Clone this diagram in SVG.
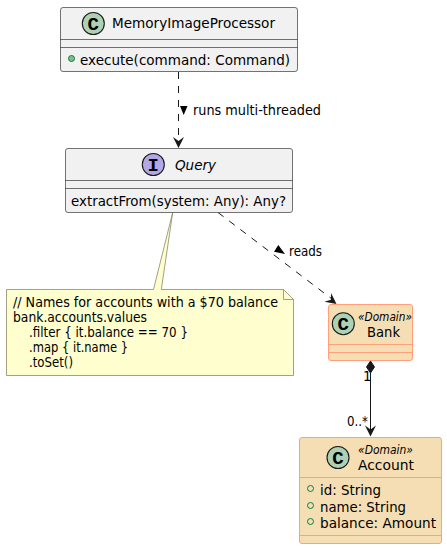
<svg xmlns="http://www.w3.org/2000/svg" width="447" height="549" viewBox="0 0 447 549">
<style>
text{font-family:"DejaVu Sans","Liberation Sans",sans-serif;font-size:14.300px;fill:#000}
.box{fill:#f1f1f1;stroke:#181818;stroke-width:.6}
.dom{fill:#f5deb3;stroke:#ffa07a;stroke-width:1}
.div{stroke:#181818;stroke-width:.6;fill:none}
.ddiv{stroke:#ffa07a;stroke-width:1;fill:none}
.c{fill:#add1b2;stroke:#181818;stroke-width:1.100}
.i{fill:#b4a7e5;stroke:#181818;stroke-width:1.100}
.g{font-weight:bold;font-size:19px;text-anchor:middle;font-family:"Liberation Mono","DejaVu Sans Mono",monospace}
.s{font-size:11.500px;font-style:italic}
.vis{fill:#84be84;stroke:#038048;stroke-width:1}
.visd{fill:none;stroke:#038048;stroke-width:1}
.ln{stroke:#181818;stroke-width:1;fill:none}
.dash{stroke-dasharray:7,7}
.nt{font-size:13.300px}
.lb{font-size:13.300px}
</style>
<defs>
<path id="ah" d="M-5.500,-11 L0,0 L5.500,-11 L0,-7 Z" fill="#181818"/>
</defs>
<g id="connectors">
<path class="ln dash" d="M178.500,72 L178.500,142"/>
<use href="#ah" transform="translate(178.500,148)"/>
<path d="M180,106 L187.500,106 L183.700,115 Z" fill="#000"/>
<text class="lb" x="193" y="115" textLength="128" lengthAdjust="spacingAndGlyphs">runs multi-threaded</text>
<path class="ln dash" d="M218,212.500 L332,299"/>
<use href="#ah" transform="translate(336.500,304) rotate(-53)"/>
<path d="M278.300,245 L274,251.700 L285,254 Z" fill="#000"/>
<text class="lb" x="289" y="256" textLength="33" lengthAdjust="spacingAndGlyphs">reads</text>
<path class="ln" d="M370.500,373 L370.500,430"/>
<path d="M370.500,361 L374.500,367 L370.500,373 L366.500,367 Z" fill="#181818" stroke="#181818"/>
<use href="#ah" transform="translate(370.500,436.500)"/>
<text class="lb" x="363" y="381">1</text>
<text class="lb" x="347" y="426" textLength="21" lengthAdjust="spacingAndGlyphs">0..*</text>
</g>
<g id="note">
<path d="M6.500,289.500 L153.500,289.500 L172.700,212.500 L161.300,289.500 L283.500,289.500 L293.500,299.500 L293.500,375.500 L6.500,375.500 Z" fill="#fefece" stroke="#8a8a6a" stroke-width=".8"/>
<path d="M283.500,289.500 L283.500,299.500 L293.500,299.500" fill="none" stroke="#8a8a6a" stroke-width=".8"/>
<text class="nt" x="13" y="307" textLength="265" lengthAdjust="spacingAndGlyphs">// Names for accounts with a $70 balance</text>
<text class="nt" x="13" y="322" textLength="134" lengthAdjust="spacingAndGlyphs">bank.accounts.values</text>
<text class="nt" x="29" y="337" textLength="159" lengthAdjust="spacingAndGlyphs">.filter { it.balance == 70 }</text>
<text class="nt" x="29" y="352" textLength="99" lengthAdjust="spacingAndGlyphs">.map { it.name }</text>
<text class="nt" x="29" y="367" textLength="44" lengthAdjust="spacingAndGlyphs">.toSet()</text>
</g>
<g id="MemoryImageProcessor">
<rect class="box" x="60.500" y="7.500" width="237" height="64" rx="2.500"/>
<path class="div" d="M60.500,39.500 H297.500 M60.500,47.500 H297.500"/>
<circle class="c" cx="93.300" cy="23.500" r="11"/>
<text class="g" x="93.300" y="29.500">C</text>
<text x="112" y="28" textLength="163" lengthAdjust="spacingAndGlyphs">MemoryImageProcessor</text>
<circle class="vis" cx="71.500" cy="58.500" r="3"/>
<text x="80" y="65" textLength="210" lengthAdjust="spacingAndGlyphs">execute(command: Command)</text>
</g>
<g id="Query">
<rect class="box" x="65.500" y="148.500" width="227" height="64" rx="2.500"/>
<path class="div" d="M65.500,180.500 H292.500 M65.500,188.500 H292.500"/>
<circle class="i" cx="153.300" cy="164.500" r="11"/>
<text class="g" x="153.300" y="170.500">I</text>
<text x="175" y="170" font-style="italic" textLength="41" lengthAdjust="spacingAndGlyphs">Query</text>
<text x="71" y="206" textLength="215" lengthAdjust="spacingAndGlyphs">extractFrom(system: Any): Any?</text>
</g>
<g id="Bank">
<rect class="dom" x="328.500" y="304.500" width="84" height="56" rx="2.500"/>
<path class="ddiv" d="M328.500,344.500 H412.500 M328.500,352.500 H412.500"/>
<circle class="c" cx="343.300" cy="323.700" r="11"/>
<text class="g" x="343.300" y="329.700">C</text>
<text class="s" x="358" y="321" textLength="54" lengthAdjust="spacingAndGlyphs">«Domain»</text>
<text x="367" y="336.500" textLength="33" lengthAdjust="spacingAndGlyphs">Bank</text>
</g>
<g id="Account">
<rect class="dom" x="299.500" y="437.500" width="142" height="106" rx="2.500"/>
<path class="ddiv" d="M299.500,477.500 H441.500 M299.500,535.500 H441.500"/>
<circle class="c" cx="338" cy="457.500" r="11"/>
<text class="g" x="338" y="463.500">C</text>
<text class="s" x="358" y="454" textLength="55" lengthAdjust="spacingAndGlyphs">«Domain»</text>
<text x="358" y="470" textLength="56" lengthAdjust="spacingAndGlyphs">Account</text>
<circle class="visd" cx="310.500" cy="488.500" r="3"/>
<text x="320" y="495" textLength="61" lengthAdjust="spacingAndGlyphs">id: String</text>
<circle class="visd" cx="310.500" cy="505.500" r="3"/>
<text x="320" y="512" textLength="86" lengthAdjust="spacingAndGlyphs">name: String</text>
<circle class="visd" cx="310.500" cy="521.500" r="3"/>
<text x="320" y="528" textLength="116" lengthAdjust="spacingAndGlyphs">balance: Amount</text>
</g>
</svg>
